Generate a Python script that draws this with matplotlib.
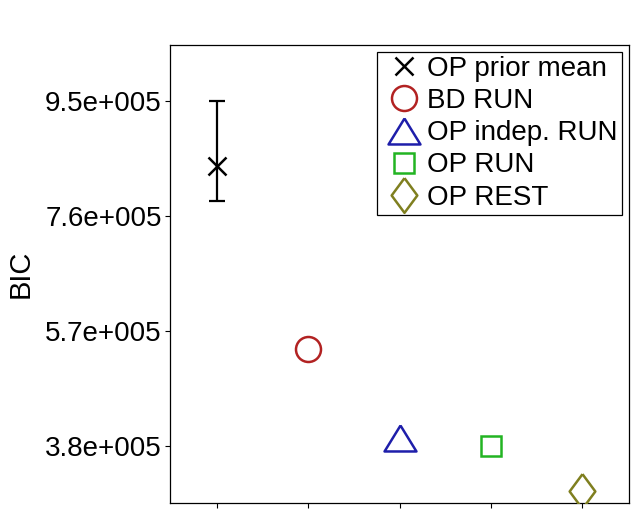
import matplotlib
matplotlib.use("Agg")
import matplotlib.pyplot as plt
import numpy as np

plt.rcParams['font.family'] = ['Liberation Sans', 'DejaVu Sans']

# Data
labels = ["OP prior mean", "BD RUN", "OP indep. RUN", "OP RUN", "OP REST"]
positions = [1, 2, 3, 4, 5]
bic_values = [843000, 540400, 394000, 380500, 305600]
prior_err_low = [57400]
prior_err_high = [107000]
colors = ["black", "#B22222", "#1E1EAA", "#22B422", "#7F7F1F"]
ytick_vals = [380000, 570000, 760000, 950000]
ytick_labels = ["3.8e+005", "5.7e+005", "7.6e+005", "9.5e+005"]

tri = [(0, 13/16), (-1, -13/16), (1, -13/16), (0, 13/16)]
dia = [(0, 1), (0.74, 0), (0, -1), (-0.74, 0), (0, 1)]
markers = ["x", "o", tri, "s", dia]
msizes = [13, 18, 23, 15, 25]

fig = plt.figure(figsize=(6.38, 5.19), dpi=100)
ax = fig.add_axes([170/638, 1-502.7/519, 459/638, 457.7/519])

for i in range(5):
    if i == 0:
        ax.errorbar(positions[i], bic_values[i],
                    yerr=[prior_err_low, prior_err_high],
                    fmt='none', ecolor='black', elinewidth=1.6,
                    capsize=6, capthick=1.6, zorder=2)
    ax.plot(positions[i], bic_values[i], linestyle='none', marker=markers[i],
            markersize=msizes[i], markerfacecolor='none',
            markeredgecolor=colors[i], markeredgewidth=1.8,
            color=colors[i], label=labels[i], zorder=3)

ax.set_xlim(0.49, 5.51)
ax.set_ylim(286250, 1043100)
ax.set_xticks(positions)
ax.set_xticklabels([])
ax.set_yticks(ytick_vals)
ax.set_yticklabels(ytick_labels)
ax.tick_params(direction='out', length=3.5, width=0.8, labelsize=20, pad=2.5)
for s in ax.spines.values():
    s.set_linewidth(0.9)

ax.set_ylabel("BIC", fontsize=21)
ax.yaxis.set_label_coords(-0.295, 0.5)

leg = ax.legend(loc='upper right', fontsize=20, frameon=True, fancybox=False,
                framealpha=1, edgecolor='black', borderaxespad=0.25,
                handlelength=1.62, handletextpad=0.05, labelspacing=0.22,
                borderpad=0.15, numpoints=1)
leg.get_frame().set_linewidth(0.9)

fig.savefig("out.png", dpi=100)
